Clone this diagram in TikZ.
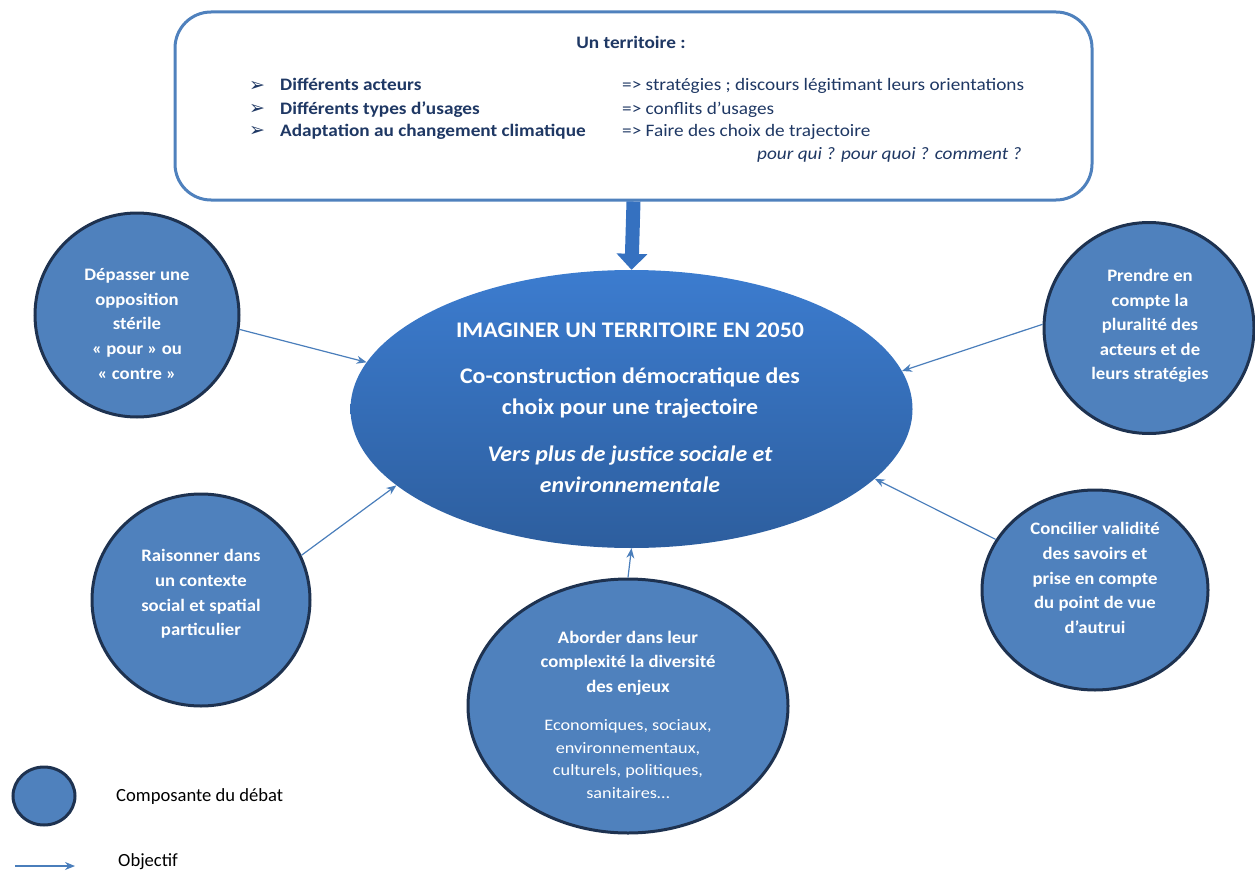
\documentclass[tikz,border=0pt]{standalone}
\usepackage{fontspec}
\setmainfont{Carlito}
\newfontfamily\dejavu{DejaVu Sans}
\newfontfamily\boxfont[FakeStretch=1.1]{Carlito}
\newfontfamily\circfont[FakeStretch=1.07]{Carlito}
\newfontfamily\bigfont[FakeStretch=1.07]{Carlito}
\newfontfamily\smallfont[FakeStretch=1.14]{Carlito}
\usetikzlibrary{shapes.geometric,arrows.meta}
\definecolor{cfill}{HTML}{4F81BD}
\definecolor{cborder}{HTML}{1E3250}
\definecolor{boxline}{HTML}{4F81BD}
\definecolor{boxtext}{HTML}{1F3864}
\definecolor{etop}{HTML}{3C7CCF}
\definecolor{ebot}{HTML}{2D5E9E}
\definecolor{arr}{HTML}{4A7EBB}
\definecolor{bigarr}{HTML}{3571C0}
\tikzset{
  comp/.style={ellipse, draw=cborder, line width=3pt, fill=cfill, inner sep=0pt},
  ctext/.style={text=white, align=center, font=\circfont\fontsize{17.5}{24.6}\selectfont\bfseries, inner sep=0pt},
  csmall/.style={text=white, align=center, font=\smallfont\fontsize{16}{22.8}\selectfont, inner sep=0pt},
  mtext/.style={text=white, align=center, font=\bigfont\fontsize{22.3}{31}\selectfont\bfseries, inner sep=0pt},
  btext/.style={text=boxtext, font=\boxfont\fontsize{17.5}{20}\selectfont, inner sep=0pt, anchor=base west},
  bul/.style={text=boxtext, font=\dejavu\fontsize{19}{20}\selectfont, inner sep=0pt, anchor=base west},
  obj/.style={draw=arr, line width=1.2pt, -{Stealth[length=10pt,width=8pt]}},
  legtext/.style={text=black, font=\fontsize{18.6}{20}\selectfont, inner sep=0pt, anchor=west}
}
\begin{document}
\begin{tikzpicture}[x=1pt,y=-1pt]
\useasboundingbox (0,0) rectangle (1255,872);
% top box
\node[draw=boxline, line width=3pt, fill=white, rounded corners=36pt, minimum width=917pt, minimum height=188pt, inner sep=0pt] (box) at (633.5,106) {};
\node[text=boxtext, font=\boxfont\fontsize{17.5}{20}\selectfont\bfseries, inner sep=0pt, anchor=base] (bt) at (631,49) {Un territoire :};
\node[bul] (b1) at (249,92) {➢};
\node[bul] (b2) at (249,115) {➢};
\node[bul] (b3) at (249,137) {➢};
\node[btext, font=\boxfont\fontsize{17.5}{20}\selectfont\bfseries] (l1) at (280,91) {Différents acteurs};
\node[btext, font=\boxfont\fontsize{17.5}{20}\selectfont\bfseries] (l2) at (280,114) {Différents types d’usages};
\node[btext, font=\boxfont\fontsize{17.5}{20}\selectfont\bfseries] (l3) at (280,136) {Adaptation au changement climatique};
\node[btext] (r1) at (622,91) {=> stratégies ; discours légitimant leurs orientations};
\node[btext] (r2) at (622,114) {=> conflits d’usages};
\node[btext] (r3) at (622,136) {=> Faire des choix de trajectoire};
\node[btext, font=\boxfont\fontsize{17.5}{20}\selectfont\itshape] (r4) at (757,160) {pour qui ? pour quoi ? comment ?};
% central ellipse
\node[ellipse, top color=etop, bottom color=ebot, minimum width=562pt, minimum height=278pt, inner sep=0pt] (main) at (631.5,409) {};
\node[mtext] (m1) at (630,330) {IMAGINER UN TERRITOIRE EN 2050};
\node[mtext] (m2) at (630,393) {Co-construction démocratique des\\choix pour une trajectoire};
\node[mtext, font=\bigfont\fontsize{22.3}{31}\selectfont\bfseries\itshape] (m3) at (630,469) {Vers plus de justice sociale et\\environnementale};
% big arrow
\draw[bigarr, line width=14pt, -{Triangle[width=30pt,length=16pt]}] (box.south) -- (main.north);
% components
\node[comp, minimum width=204pt, minimum height=204pt] (c1) at (137,315) {};
\node[ctext] (t1) at (137,324) {Dépasser une\\opposition\\stérile\\« pour » ou\\« contre »};
\node[comp, minimum width=210pt, minimum height=211pt] (c2) at (1149,328) {};
\node[ctext] (t2) at (1150,326) {Prendre en\\compte la\\pluralité des\\acteurs et de\\leurs stratégies};
\node[comp, minimum width=218pt, minimum height=212pt] (c3) at (201,600) {};
\node[ctext] (t3) at (201,594) {Raisonner dans\\un contexte\\social et spatial\\particulier};
\node[comp, minimum width=320pt, minimum height=254pt] (c4) at (628,706) {};
\node[ctext] (t4) at (628,663) {Aborder dans leur\\complexité la diversité\\des enjeux};
\node[csmall] (t4b) at (628,759) {Economiques, sociaux,\\environnementaux,\\culturels, politiques,\\sanitaires…};
\node[comp, minimum width=226pt, minimum height=200pt] (c5) at (1095,590) {};
\node[ctext] (t5) at (1095,578) {Concilier validité\\des savoirs et\\prise en compte\\du point de vue\\d’autrui};
% objective arrows
\draw[obj] (c1.-8) -- (main.170);
\draw[obj] (c2.178) -- (main.8);
\draw[obj] (c3.24) -- (main.198);
\draw[obj] (c4.north) -- (main.south);
\draw[obj] (c5.153) -- (main.-16);
% legend
\node[comp, minimum width=62pt, minimum height=58pt] (lc) at (44,796) {};
\node[legtext] (lt1) at (116,797) {Composante du débat};
\coordinate (la) at (15,866);
\coordinate (lb) at (75,866);
\draw[obj] (la) -- (lb);
\node[legtext] (lt2) at (118,862) {Objectif};
\end{tikzpicture}
\end{document}
